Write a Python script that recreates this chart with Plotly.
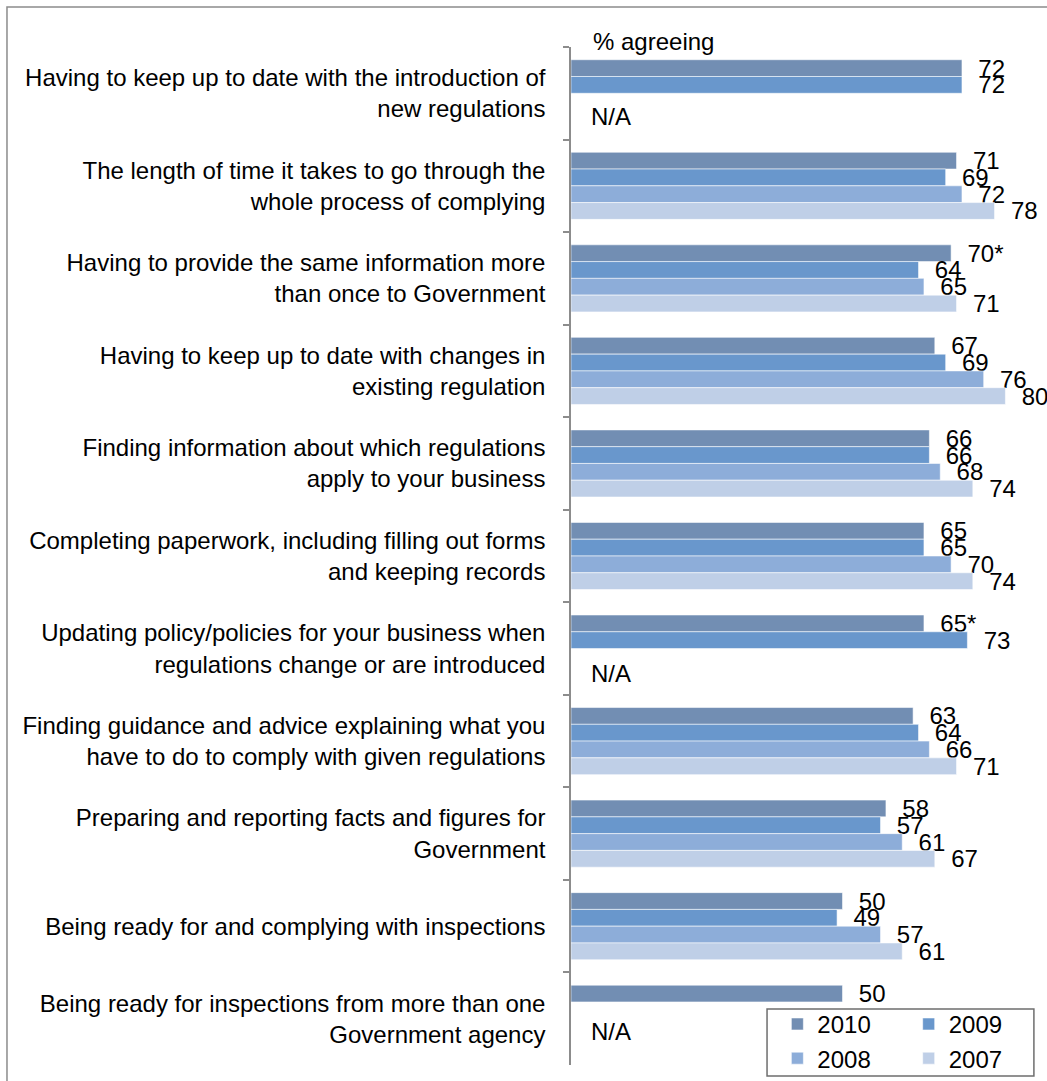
import plotly.graph_objects as go

# Survey statements (top to bottom) and the share of businesses agreeing, by year
categories = [
    "Having to keep up to date with the introduction of<br>new regulations",
    "The length of time it takes to go through the<br>whole process of complying",
    "Having to provide the same information more<br>than once to Government",
    "Having to keep up to date with changes in<br>existing regulation",
    "Finding information about which regulations<br>apply to your business",
    "Completing paperwork, including filling out forms<br>and keeping records",
    "Updating policy/policies for your business when<br>regulations change or are introduced",
    "Finding guidance and advice explaining what you<br>have to do to comply with given regulations",
    "Preparing and reporting facts and figures for<br>Government",
    "Being ready for and complying with inspections",
    "Being ready for inspections from more than one<br>Government agency",
]

values_2010 = [72, 71, 70, 67, 66, 65, 65, 63, 58, 50, 50]
values_2009 = [72, 69, 64, 69, 66, 65, 73, 64, 57, 49, None]
values_2008 = [None, 72, 65, 76, 68, 70, None, 66, 61, 57, None]
values_2007 = [None, 78, 71, 80, 74, 74, None, 71, 67, 61, None]

# significance markers shown after the 2010 figures
flags_2010 = ["", "", "*", "", "", "", "*", "", "", "", ""]

# statements with no earlier-year data
na_categories = [categories[0], categories[6], categories[10]]
na_offsets = [-23, -25, -13]

series = [
    ("2010", values_2010, "#728EB3", "legend"),
    ("2009", values_2009, "#6997CC", "legend2"),
    ("2008", values_2008, "#8DADD9", "legend"),
    ("2007", values_2007, "#BFCFE7", "legend2"),
]

FONT = "Liberation Sans, Arial, sans-serif"
FS = 24
PAD = "\u00a0\u00a0"

fig = go.Figure()
for name, vals, color, leg in series:
    flags = flags_2010 if name == "2010" else [""] * len(vals)
    text = [PAD + f"{v}{f}" if v is not None else "" for v, f in zip(vals, flags)]
    fig.add_trace(go.Bar(
        name=name,
        y=categories,
        x=vals,
        orientation="h",
        marker=dict(color=color, line=dict(color="rgba(255,255,255,0.55)", width=1)),
        text=text,
        textposition="outside",
        textfont=dict(size=FS, color="#000000", family=FONT),
        constraintext="none",
        cliponaxis=False,
        legend=leg,
        hoverinfo="skip",
    ))

annotations = [
    dict(text="% agreeing", xref="x", yref="paper", x=0, y=1, xanchor="left",
         yanchor="middle", xshift=20, yshift=6, showarrow=False,
         font=dict(size=FS, color="#000000", family=FONT)),
]
for cat, off in zip(na_categories, na_offsets):
    annotations.append(dict(
        text="N/A", xref="x", yref="y", x=0, y=cat, xanchor="left",
        yanchor="middle", xshift=18, yshift=off, showarrow=False,
        font=dict(size=FS, color="#000000", family=FONT)))

shapes = [
    # outer chart frame
    dict(type="rect", xref="paper", yref="paper", x0=-1.2026, x1=1.04,
         y0=-0.03, y1=1.0393, line=dict(color="#8C8C8C", width=1.5)),
    # legend frame
    dict(type="rect", xref="paper", yref="paper", x0=0.418, x1=0.987,
         y0=-0.0108, y1=0.055, line=dict(color="#6E6E6E", width=1.5),
         fillcolor="white", layer="below"),
]

legend_style = dict(font=dict(size=FS, color="#000000", family=FONT),
                    bgcolor="rgba(0,0,0,0)", borderwidth=0, orientation="v",
                    yanchor="top", xanchor="left", tracegroupgap=0)

fig.update_layout(
    width=1047, height=1081,
    margin=dict(l=571, r=7, t=47, b=16, autoexpand=False),
    paper_bgcolor="white", plot_bgcolor="white",
    barmode="group", bargap=0.275, bargroupgap=0,
    font=dict(family=FONT, size=FS, color="#000000"),
    xaxis=dict(range=[0, 86.37], visible=False, showgrid=False, zeroline=False),
    yaxis=dict(
        type="category", categoryorder="array", categoryarray=categories,
        autorange="reversed", tickson="boundaries", ticks="outside", ticklen=6,
        tickcolor="#8C8C8C", tickwidth=1.5, showline=True, linecolor="#8C8C8C",
        linewidth=1.5, showgrid=False, ticklabelstandoff=19,
        tickfont=dict(size=FS, color="#000000", family=FONT),
    ),
    legend=dict(x=0.44, y=0.062, **legend_style),
    legend2=dict(x=0.72, y=0.062, **legend_style),
    annotations=annotations,
    shapes=shapes,
)

fig.write_html("out.html")
